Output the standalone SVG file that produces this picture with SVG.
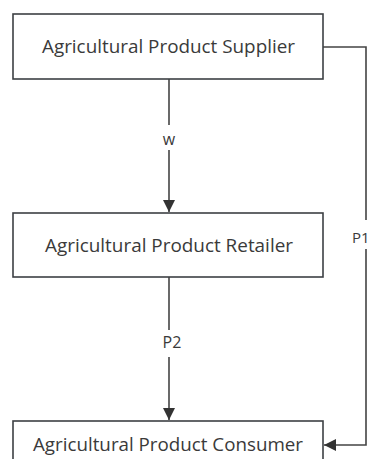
<svg xmlns="http://www.w3.org/2000/svg" width="371" height="459" viewBox="0 0 371 459">
<defs>
<marker id="ah" markerWidth="12" markerHeight="14" refX="12" refY="6" orient="auto" markerUnits="userSpaceOnUse" viewBox="0 0 12 14">
<path d="M0,0 L12,6 L0,12 Z" fill="#333"/>
</marker>
<style>
.box{fill:#fff;stroke:#3d4044;stroke-width:1.6}
.t{font-family:"Open Sans","Noto Sans",sans-serif;font-size:18px;fill:#3a3a3a;text-anchor:middle;dominant-baseline:central}
.lab{font-family:"Open Sans","Noto Sans",sans-serif;font-size:16px;fill:#3a3a3a;text-anchor:middle;dominant-baseline:central}
.ln{fill:none;stroke:#444;stroke-width:1.6}
</style>
</defs>
<rect width="371" height="459" fill="#fff"/>
<g id="connectors">
<path class="ln" d="M169,79 V125"/>
<path class="ln" d="M169,150 V212" marker-end="url(#ah)"/>
<path class="ln" d="M169,277 V330"/>
<path class="ln" d="M169,357 V420" marker-end="url(#ah)"/>
<path class="ln" d="M323,47 H366 V220"/>
<path class="ln" d="M366,249 V445 H324" marker-end="url(#ah)"/>
<text class="lab" x="169" y="139">w</text>
<text class="lab" x="172" y="342">P2</text>
<text class="lab" x="352" y="237" style="text-anchor:start;font-size:15px">P1</text>
</g>
<g id="supplier">
<rect class="box" x="13" y="14" width="310" height="65"/>
<text class="t" x="168.5" y="46" textLength="253" lengthAdjust="spacingAndGlyphs">Agricultural Product Supplier</text>
</g>
<g id="retailer">
<rect class="box" x="13" y="213" width="310" height="64"/>
<text class="t" x="169" y="245" textLength="248" lengthAdjust="spacingAndGlyphs">Agricultural Product Retailer</text>
</g>
<g id="consumer">
<rect class="box" x="13" y="421" width="310" height="50"/>
<text class="t" x="168" y="444" textLength="270" lengthAdjust="spacingAndGlyphs">Agricultural Product Consumer</text>
</g>
</svg>
